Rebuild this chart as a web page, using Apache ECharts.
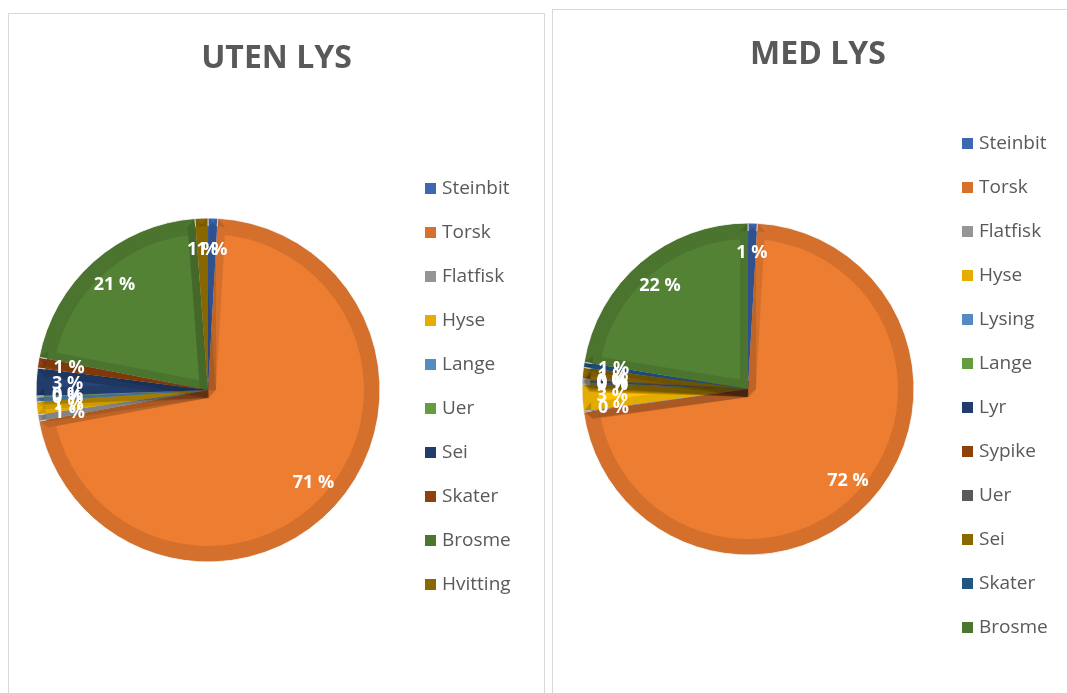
<!DOCTYPE html>
<html>
<head>
<meta charset="UTF-8">
<title>UTEN LYS / MED LYS</title>
<script src="https://cdn.jsdelivr.net/npm/echarts@6/dist/echarts.min.js"></script>
<style>
  html, body { margin: 0; padding: 0; overflow: hidden; background: #fff; }
  .panel { position: absolute; border: 1px solid #d9d9d9; background: #fff; }
  #left { left: 8px; top: 13px; width: 535px; height: 700px; }
  #right { left: 552px; top: 9px; width: 530px; height: 700px; }
</style>
</head>
<body>
<div class="panel" id="left"></div>
<div class="panel" id="right"></div>
<script>
  // UTEN LYS (andel i prosent, lest av figuren)
  var leftNames = ['Steinbit', 'Torsk', 'Flatfisk', 'Hyse', 'Lange', 'Uer', 'Sei', 'Skater', 'Brosme', 'Hvitting'];
  var leftValues = [0.9, 71.2, 0.6, 1.2, 0.45, 0.1, 2.6, 1.0, 20.75, 1.2];
  var leftColors = ['#4472C4', '#ED7D31', '#A5A5A5', '#FFC000', '#5B9BD5', '#70AD47', '#264478', '#9E480E', '#548235', '#997300'];

  // MED LYS
  var rightNames = ['Steinbit', 'Torsk', 'Flatfisk', 'Hyse', 'Lysing', 'Lange', 'Lyr', 'Sypike', 'Uer', 'Sei', 'Skater', 'Brosme'];
  var rightValues = [0.9, 71.8, 0.1, 2.6, 0.1, 0.1, 0.1, 0.1, 0.1, 1.1, 0.5, 22.4];
  var rightColors = ['#4472C4', '#ED7D31', '#A5A5A5', '#FFC000', '#5B9BD5', '#70AD47', '#264478', '#9E480E', '#636363', '#997300', '#255E91', '#548235'];

  // darker shade, used for legend swatches
  function shade(hex, f) {
    var n = parseInt(hex.slice(1), 16);
    var r = Math.round(((n >> 16) & 255) * f);
    var g = Math.round(((n >> 8) & 255) * f);
    var b = Math.round((n & 255) * f);
    return 'rgb(' + r + ',' + g + ',' + b + ')';
  }

  function buildOption(title, names, values, colors, center, R, legendPos) {
    var data = names.map(function (n, i) { return { name: n, value: values[i] }; });
    var legendData = names.map(function (n, i) {
      return { name: n, itemStyle: { color: shade(colors[i], 0.9) } };
    });
    return {
      animation: false,
      title: {
        text: title,
        left: 'center',
        top: 24,
        textStyle: { fontFamily: 'Open Sans', fontWeight: 'bold', fontSize: 32, color: '#595959' }
      },
      legend: {
        orient: 'vertical',
        left: legendPos[0],
        top: legendPos[1],
        icon: 'rect',
        itemWidth: 13,
        itemHeight: 13,
        itemGap: 25,
        selectedMode: false,
        textStyle: { fontFamily: 'Open Sans', fontSize: 19, color: '#595959' },
        data: legendData
      },
      series: [
        {
          // full disc with thin white separators
          type: 'pie',
          center: center,
          radius: R,
          silent: true,
          label: { show: false },
          labelLine: { show: false },
          itemStyle: {
            borderColor: '#fff',
            borderWidth: 1,
            color: function (p) { return colors[p.dataIndex]; }
          },
          data: data
        },
        {
          // same slices again, with a dark translucent edge (bevel look)
          type: 'pie',
          center: center,
          radius: R - 8,
          silent: true,
          label: { show: false },
          labelLine: { show: false },
          itemStyle: {
            borderColor: 'rgba(0,0,0,0.1)',
            borderWidth: 16,
            borderJoin: 'bevel',
            color: function (p) { return colors[p.dataIndex]; }
          },
          data: data
        },
        {
          // labels at 0.8 R
          type: 'pie',
          center: center,
          radius: [R * 0.6, R],
          silent: true,
          avoidLabelOverlap: false,
          labelLayout: { hideOverlap: false },
          itemStyle: { color: 'rgba(0,0,0,0)' },
          label: {
            show: true,
            position: 'inside',
            fontFamily: 'Open Sans',
            fontWeight: 'bold',
            fontSize: 18,
            color: '#fff',
            formatter: function (p) { return Math.round(p.percent) + ' %'; }
          },
          labelLine: { show: false },
          data: data
        }
      ]
    };
  }

  var leftChart = echarts.init(document.getElementById('left'));
  leftChart.setOption(buildOption('UTEN LYS', leftNames, leftValues, leftColors, [199, 376], 172, [409, 160]));

  var rightChart = echarts.init(document.getElementById('right'));
  rightChart.setOption(buildOption('MED LYS', rightNames, rightValues, rightColors, [195, 379], 166, [402, 119]));
</script>
</body>
</html>
